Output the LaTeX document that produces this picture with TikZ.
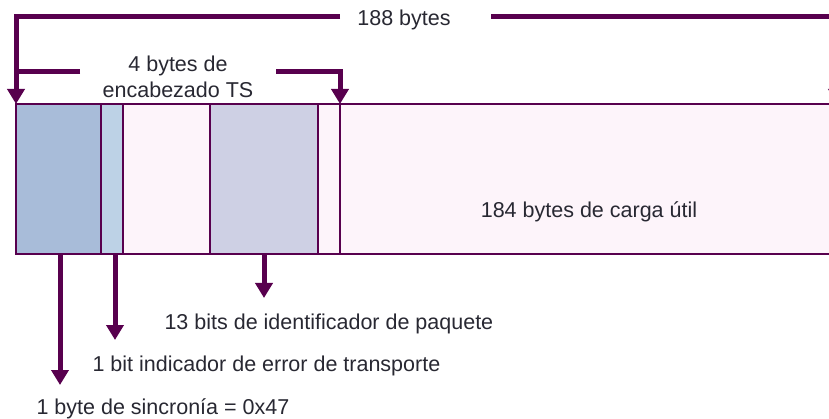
\documentclass[tikz,border=0pt]{standalone}
\usepackage{fontspec}
\setmainfont{Liberation Sans}
\usetikzlibrary{arrows.meta,positioning,calc}
\definecolor{framepurple}{RGB}{88,0,78}
\definecolor{syncblue}{RGB}{168,188,217}
\definecolor{errblue}{RGB}{189,210,230}
\definecolor{pidlilac}{RGB}{206,208,228}
\definecolor{payloadpink}{RGB}{253,244,250}
\definecolor{textgray}{RGB}{40,40,50}

\begin{document}
\begin{tikzpicture}[x=1pt, y=-1pt,
    field/.style={rectangle, draw=framepurple, line width=2pt, anchor=north west, minimum height=150pt, inner sep=0pt, outer sep=0pt},
    arrow/.style={-{Triangle[width=17pt,length=15pt]}, line width=5pt, draw=framepurple},
    bracket/.style={line width=5pt, draw=framepurple},
    label/.style={font=\fontsize{21.5}{26}\selectfont, text=textgray}
]
\path[use as bounding box] (0,0) rectangle (829,419);
\clip (0,0) rectangle (829,419);

% Packet fields
\node[field, fill=syncblue, minimum width=85pt] (sync) at (16,104) {};
\node[field, fill=errblue, minimum width=22pt] (tei) at (101,104) {};
\node[field, fill=payloadpink, minimum width=87pt] (flags) at (123,104) {};
\node[field, fill=pidlilac, minimum width=108pt] (pid) at (210,104) {};
\node[field, fill=payloadpink, minimum width=22pt] (ctrl) at (318,104) {};
\node[field, fill=payloadpink, minimum width=497pt] (payload) at (340,104) {};

% Labels
\node[label, anchor=base] (total) at (404,26) {188 bytes};
\node[label, align=center] (header) at (178,77) {4 bytes de\\encabezado TS};
\node[label, anchor=base] (payloadLbl) at (589,218) {184 bytes de carga útil};
\node[label, anchor=base west] (pidLbl) at (161,329) {13 bits de identificador de paquete};
\node[label, anchor=base west] (teiLbl) at (89,371) {1 bit indicador de error de transporte};
\node[label, anchor=base west] (syncLbl) at (33,414) {1 byte de sincronía = 0x47};

% Brackets
\coordinate (topL) at (340,17);
\coordinate (topR) at (491,17);
\coordinate (hdrL) at (80,72);
\coordinate (hdrR) at (276,72);
\draw[arrow] (topL) -| (sync.north west);
\draw[arrow] (topR) -| (payload.north east);
\draw[bracket] (hdrL) -- (hdrL -| sync.north west);
\draw[arrow] (hdrR) -| (ctrl.north east);

% Field arrows
\draw[arrow] ($(sync.south)+(1.5,0)$) -- ($(sync.south)+(1.5,131)$);
\draw[arrow] ($(tei.south)+(3,0)$) -- ($(tei.south)+(3,86)$);
\draw[arrow] (pid.south) -- ($(pid.south)+(0,44)$);

\end{tikzpicture}
\end{document}
